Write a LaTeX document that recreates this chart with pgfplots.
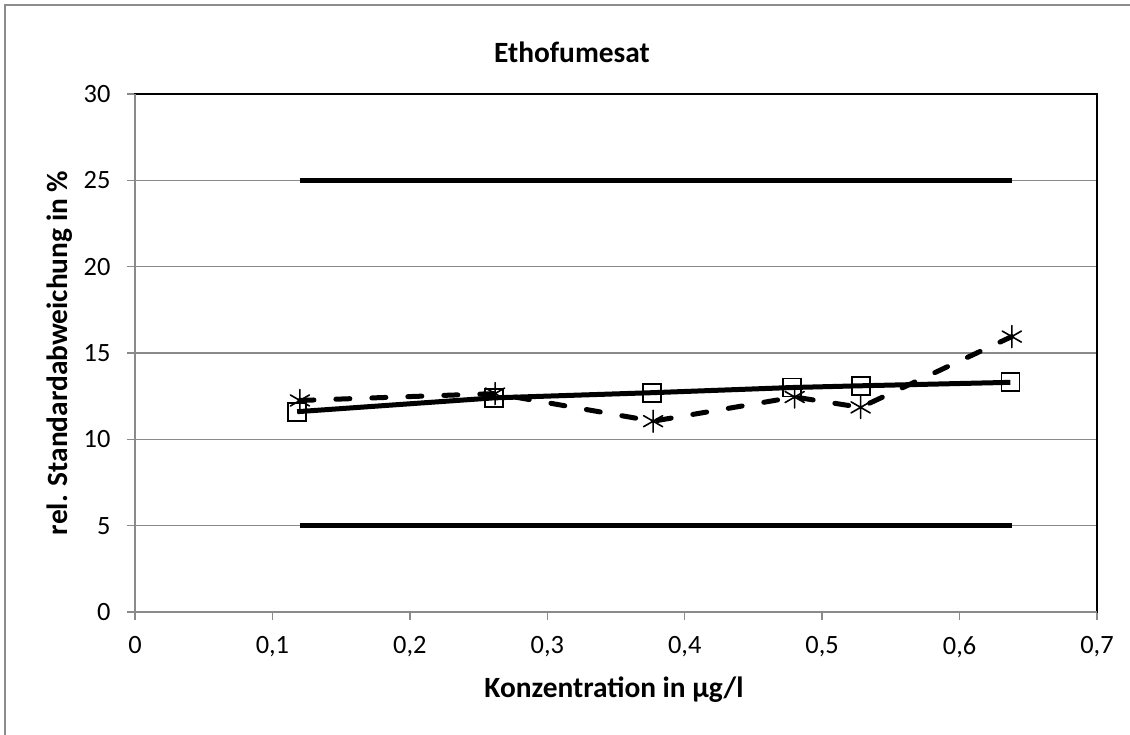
\documentclass[border=0pt]{standalone}
\usepackage{pgfplots}
\pgfplotsset{compat=1.18}
\usepackage{fontspec}
\setmainfont{Carlito}

\definecolor{gridgray}{HTML}{8A8A8A}
\definecolor{framegray}{HTML}{8C8C8C}

\begin{document}
\begin{tikzpicture}[x=1bp,y=1bp]
	\useasboundingbox (0,0) rectangle (1130,735);
	% outer chart frame (only top and left are visible)
	\draw[framegray, line width=2.5bp] (5,0) -- (5,730) -- (1130,730);

	\begin{axis}[at={(135bp,123bp)}, anchor=south west,
			scale only axis, width=962bp, height=518bp,
			xmin=0, xmax=0.7, ymin=0, ymax=30,
			xtick={0,0.1,0.2,0.3,0.4,0.5,0.6,0.7},
			xticklabels={0,{0,1},{0,2},{0,3},{0,4},{0,5},{0,6},{0,7}},
			ytick={0,5,10,15,20,25,30},
			xtick pos=bottom, ytick pos=left,
			tick align=outside, major tick length=8bp,
			tick style={gridgray, line width=1.5bp},
			ymajorgrids, grid style={gridgray, line width=1.5bp},
			axis line style={black, line width=2bp},
			ticklabel style={font=\fontsize{26.5}{30}\selectfont},
			xticklabel style={yshift=-13bp},
			yticklabel style={xshift=-13bp},
			/pgf/number format/assume math mode=true,
			clip=false
		]
		% limits at 5 % and 25 %
		\addplot[black, line width=5bp, mark=none] coordinates {(0.12,25) (0.638,25)};
		\addplot[black, line width=5bp, mark=none] coordinates {(0.12,5) (0.638,5)};

		% square series (solid)
		\addplot[black, line width=5bp, mark=square,
			mark options={solid, line width=1.8bp, fill=white, mark size=9bp}]
		coordinates {(0.118,11.6) (0.261,12.4) (0.376,12.7) (0.478,13.0) (0.528,13.1) (0.637,13.3)};

		% asterisk series (dashed)
		\addplot[black, line width=5bp, line cap=round, dash pattern=on 14bp off 22bp,
			mark=asterisk, mark options={solid, line width=1.6bp, mark size=11bp}]
		coordinates {(0.12,12.25) (0.262,12.65) (0.377,11.05) (0.48,12.45) (0.528,11.85) (0.638,15.95)};

		% gray left and bottom axis lines over the black box
		\draw[gridgray, line width=2bp] (axis cs:0,30) -- (axis cs:0,0) -- (axis cs:0.7,0);
	\end{axis}

	\node[font=\bfseries\fontsize{29.5}{34}\selectfont] at (572,683) {Ethofumesat};
	\node[font=\bfseries\fontsize{29.5}{34}\selectfont] at (614,45) {Konzentration in µg/l};
	\node[font=\bfseries\fontsize{29.5}{34}\selectfont, rotate=90] at (60,382) {rel. Standardabweichung in \%};
\end{tikzpicture}
\end{document}
